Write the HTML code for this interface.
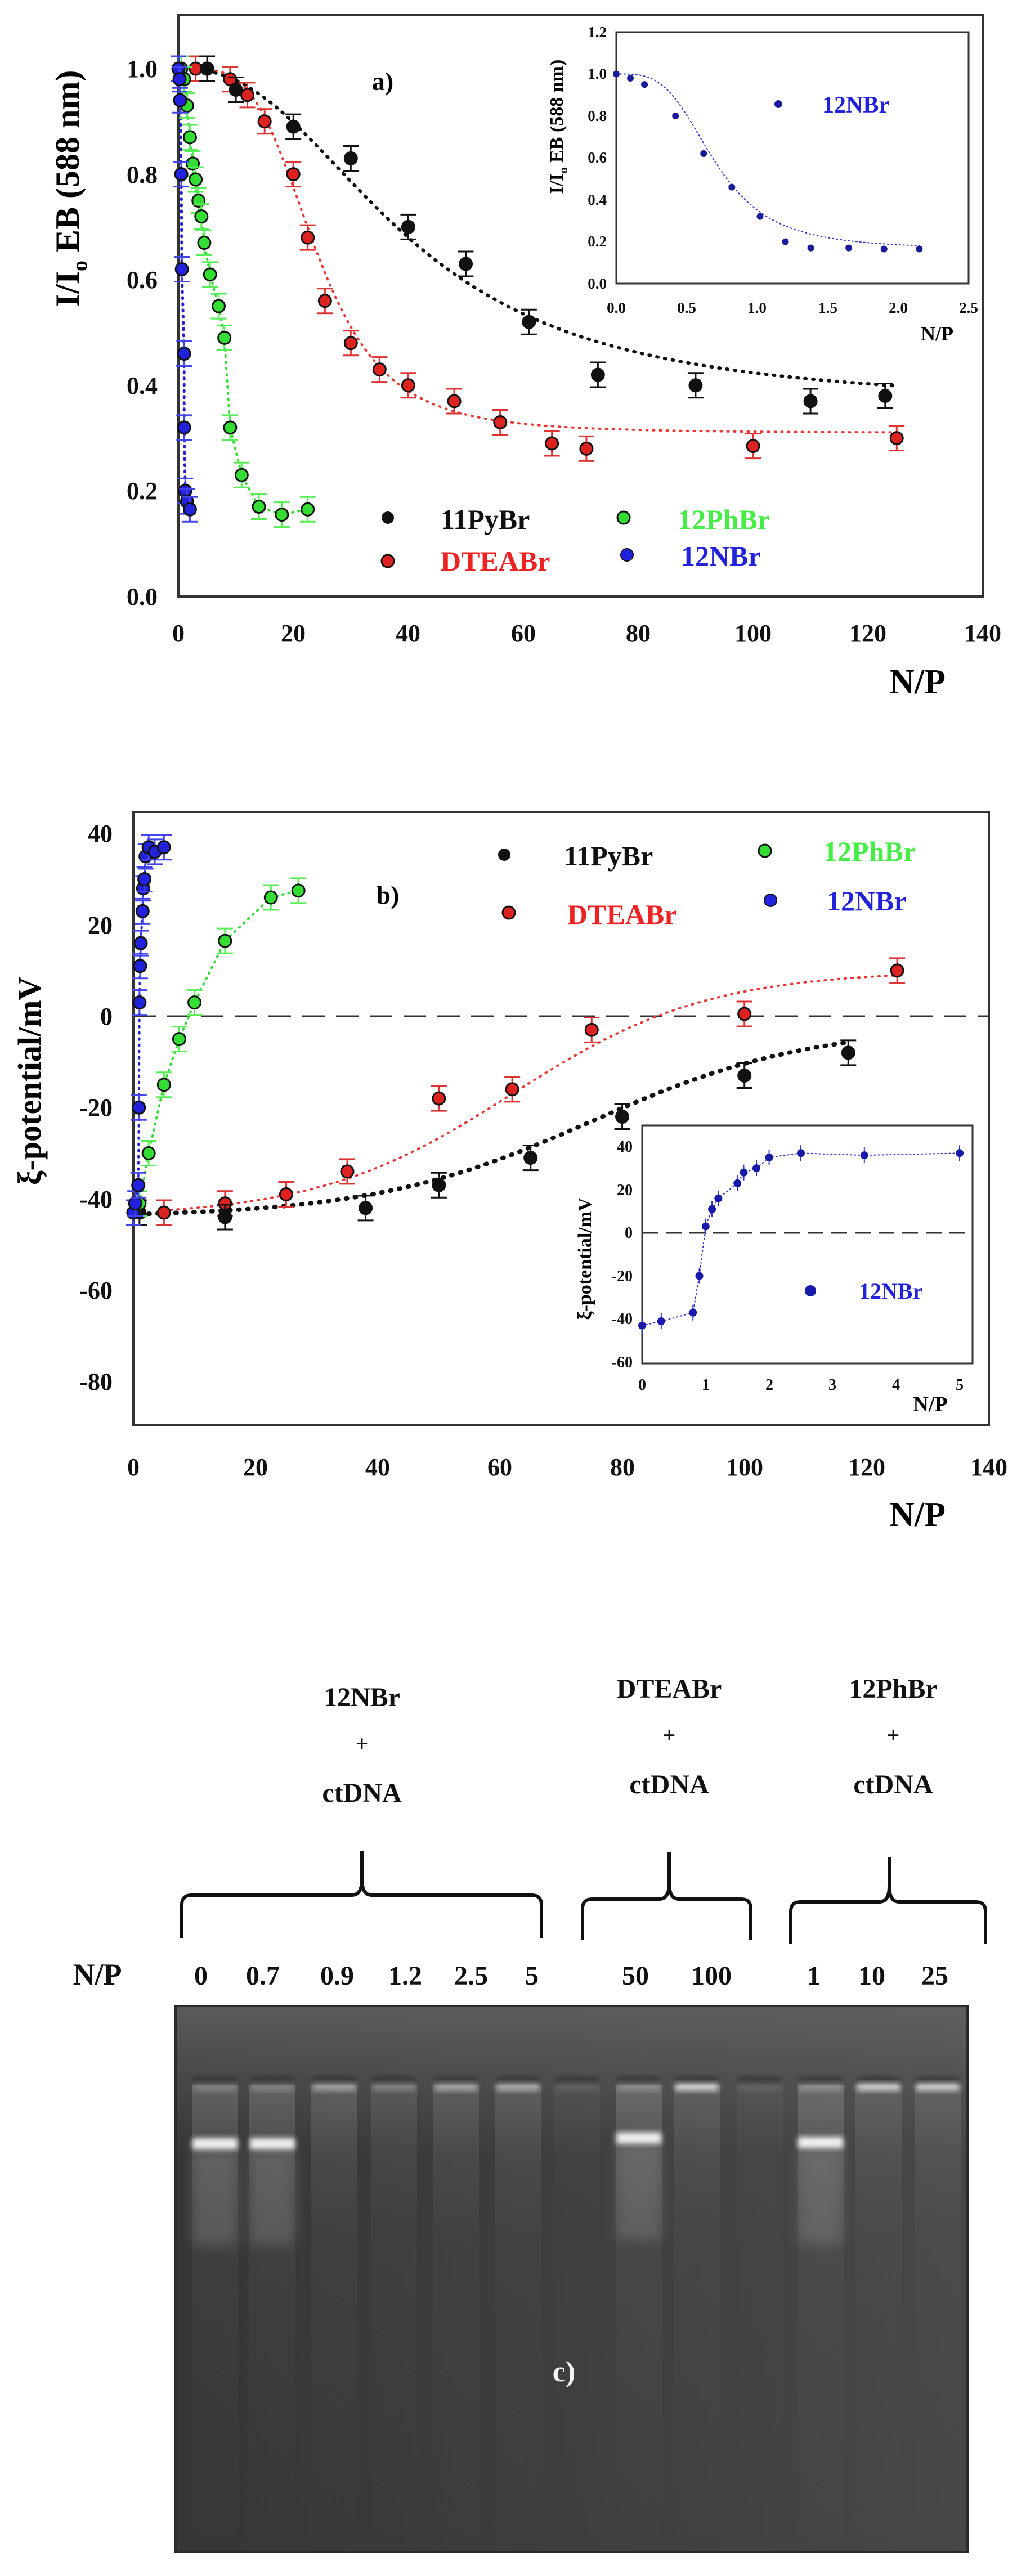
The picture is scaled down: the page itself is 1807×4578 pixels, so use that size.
<!DOCTYPE html>
<html><head><meta charset="utf-8">
<style>
html,body{margin:0;padding:0;background:#fff;}
svg{display:block;}
text{font-family:"Liberation Serif",serif;font-weight:bold;}
</style></head>
<body>
<svg id="s" xmlns="http://www.w3.org/2000/svg" width="1807" height="4578" viewBox="0 0 1807 4578">
<defs>
<filter id="bl" x="-50%" y="-50%" width="200%" height="200%"><feGaussianBlur stdDeviation="5"/></filter>
<filter id="bl2" x="-50%" y="-50%" width="200%" height="200%"><feGaussianBlur stdDeviation="12"/></filter>
<linearGradient id="gelbg" x1="0" y1="0" x2="1" y2="0">
<stop offset="0" stop-color="#363636"/><stop offset="0.5" stop-color="#3e3e3e"/><stop offset="1" stop-color="#474747"/></linearGradient>
<linearGradient id="geltop" x1="0" y1="0" x2="0" y2="1">
<stop offset="0" stop-color="#6a6a6a" stop-opacity="0.7"/><stop offset="1" stop-color="#6a6a6a" stop-opacity="0"/></linearGradient>
<linearGradient id="smear" x1="0" y1="0" x2="0" y2="1">
<stop offset="0" stop-color="#aaa" stop-opacity="0.35"/><stop offset="0.35" stop-color="#888" stop-opacity="0.12"/><stop offset="1" stop-color="#777" stop-opacity="0.02"/></linearGradient>
</defs>

<!-- ===== Panel a ===== -->
<rect x="317" y="27" width="1429" height="1033" fill="none" stroke="#333" stroke-width="4"/>
<g font-size="44" text-anchor="end" fill="#111">
<text x="280" y="1075">0.0</text><text x="280" y="887">0.2</text><text x="280" y="700">0.4</text>
<text x="280" y="512">0.6</text><text x="280" y="325">0.8</text><text x="280" y="137">1.0</text>
</g>
<g font-size="44" text-anchor="middle" fill="#111">
<text x="317" y="1140">0</text><text x="521" y="1140">20</text><text x="725" y="1140">40</text>
<text x="930" y="1140">60</text><text x="1134" y="1140">80</text><text x="1338" y="1140">100</text>
<text x="1542" y="1140">120</text><text x="1746" y="1140">140</text>
</g>
<text x="1630" y="1232" font-size="62" text-anchor="middle">N/P</text>
<text transform="translate(140,335) rotate(-90)" font-size="60" text-anchor="middle">I/I<tspan font-size="38" dy="14">o</tspan><tspan dy="-14"> EB (588 nm)</tspan></text>
<text x="680" y="160" font-size="46" text-anchor="middle">a)</text>
<!-- inset a -->
<rect x="1095" y="57" width="626" height="447" fill="#fff" stroke="#333" stroke-width="3"/>
<g font-size="27" text-anchor="end" fill="#111">
<text x="1078" y="513">0.0</text><text x="1078" y="438">0.2</text><text x="1078" y="364">0.4</text>
<text x="1078" y="289">0.6</text><text x="1078" y="215">0.8</text><text x="1078" y="140">1.0</text><text x="1078" y="66">1.2</text>
</g>
<g font-size="27" text-anchor="middle" fill="#111">
<text x="1095" y="556">0.0</text><text x="1220" y="556">0.5</text><text x="1345" y="556">1.0</text>
<text x="1471" y="556">1.5</text><text x="1596" y="556">2.0</text><text x="1721" y="556">2.5</text>
</g>
<text x="1665" y="605" font-size="36" text-anchor="middle">N/P</text>
<text transform="translate(1000,225) rotate(-90)" font-size="34" text-anchor="middle">I/I<tspan font-size="22" dy="8">o</tspan><tspan dy="-8"> EB (588 nm)</tspan></text>
<circle cx="1383" cy="185" r="7" fill="#1a1a9a"/>
<text x="1461" y="200" font-size="42" fill="#2222dd" font-family="Liberation Sans,sans-serif">12NBr</text>
<!-- legend a -->
<circle cx="689" cy="920" r="11" fill="#111"/><text x="783" y="940" font-size="50" fill="#111">11PyBr</text>
<circle cx="689" cy="997" r="11" fill="#dd2222" stroke="#111" stroke-width="3"/><text x="783" y="1014" font-size="50" fill="#ee2222">DTEABr</text>
<circle cx="1108" cy="920" r="11" fill="#33dd33" stroke="#111" stroke-width="3"/><text x="1204" y="940" font-size="50" fill="#44ee44">12PhBr</text>
<circle cx="1114" cy="986" r="11" fill="#2222dd" stroke="#111" stroke-width="2"/><text x="1210" y="1005" font-size="50" fill="#2222dd">12NBr</text>

<!-- ===== Panel b ===== -->
<rect x="237" y="1443" width="1520" height="1090" fill="none" stroke="#333" stroke-width="4"/>
<g font-size="44" text-anchor="end" fill="#111">
<text x="200" y="1496">40</text><text x="200" y="1659">20</text><text x="200" y="1821">0</text>
<text x="200" y="1983">-20</text><text x="200" y="2146">-40</text><text x="200" y="2308">-60</text><text x="200" y="2470">-80</text>
</g>
<g font-size="44" text-anchor="middle" fill="#111">
<text x="237" y="2622">0</text><text x="454" y="2622">20</text><text x="671" y="2622">40</text>
<text x="888" y="2622">60</text><text x="1106" y="2622">80</text><text x="1323" y="2622">100</text>
<text x="1540" y="2622">120</text><text x="1757" y="2622">140</text>
</g>
<text x="1630" y="2712" font-size="62" text-anchor="middle">N/P</text>
<text transform="translate(72,1921) rotate(-90)" font-size="58" text-anchor="middle">ξ-potential/mV</text>
<text x="689" y="1606" font-size="46" text-anchor="middle">b)</text>
<line x1="237" y1="1806" x2="1757" y2="1806" stroke="#333" stroke-width="3" stroke-dasharray="40,20"/>
<!-- legend b -->
<circle cx="896" cy="1519" r="11" fill="#111"/><text x="1002" y="1538" font-size="50" fill="#111">11PyBr</text>
<circle cx="904" cy="1622" r="11" fill="#dd2222" stroke="#111" stroke-width="3"/><text x="1008" y="1642" font-size="50" fill="#ee2222">DTEABr</text>
<circle cx="1359" cy="1512" r="11" fill="#33dd33" stroke="#111" stroke-width="3"/><text x="1463" y="1530" font-size="50" fill="#44ee44">12PhBr</text>
<circle cx="1369" cy="1600" r="11" fill="#2222dd" stroke="#111" stroke-width="2"/><text x="1469" y="1618" font-size="50" fill="#2222dd">12NBr</text>
<!-- inset b -->
<rect x="1141" y="2000" width="587" height="423" fill="#fff" stroke="#333" stroke-width="3"/>
<g font-size="28" text-anchor="end" fill="#111">
<text x="1124" y="2047">40</text><text x="1124" y="2124">20</text><text x="1124" y="2200">0</text>
<text x="1124" y="2277">-20</text><text x="1124" y="2353">-40</text><text x="1124" y="2430">-60</text>
</g>
<g font-size="28" text-anchor="middle" fill="#111">
<text x="1141" y="2470">0</text><text x="1254" y="2470">1</text><text x="1367" y="2470">2</text>
<text x="1479" y="2470">3</text><text x="1592" y="2470">4</text><text x="1705" y="2470">5</text>
</g>
<text x="1653" y="2508" font-size="38" text-anchor="middle">N/P</text>
<text transform="translate(1050,2237) rotate(-90)" font-size="34" text-anchor="middle">ξ-potential/mV</text>
<line x1="1141" y1="2191" x2="1728" y2="2191" stroke="#333" stroke-width="3" stroke-dasharray="28,14"/>
<circle cx="1440" cy="2294" r="10" fill="#1a1aaa"/>
<text x="1526" y="2308" font-size="40" fill="#2222dd" font-family="Liberation Sans,sans-serif">12NBr</text>

<g id="data"></g>

<!-- ===== Panel c ===== -->
<g font-size="48" text-anchor="middle" fill="#111">
<text x="643" y="3032">12NBr</text><text x="643" y="3112" font-size="40">+</text><text x="643" y="3202">ctDNA</text>
<text x="1189" y="3017">DTEABr</text><text x="1189" y="3097" font-size="40">+</text><text x="1189" y="3187">ctDNA</text>
<text x="1587" y="3017">12PhBr</text><text x="1587" y="3097" font-size="40">+</text><text x="1587" y="3187">ctDNA</text>
</g>
<g fill="none" stroke="#111" stroke-width="6" stroke-linejoin="round">
<path d="M323,3445 L323,3385 Q323,3368 340,3368 L625,3368 Q643,3368 643,3340 L643,3290 M643,3340 Q643,3368 661,3368 L945,3368 Q962,3368 962,3385 L962,3445"/>
<path d="M1035,3448 L1035,3392 Q1035,3375 1052,3375 L1171,3375 Q1189,3375 1189,3347 L1189,3292 M1189,3347 Q1189,3375 1207,3375 L1317,3375 Q1334,3375 1334,3392 L1334,3448"/>
<path d="M1405,3455 L1405,3397 Q1405,3380 1422,3380 L1562,3380 Q1580,3380 1580,3352 L1580,3300 M1580,3352 Q1580,3380 1598,3380 L1734,3380 Q1751,3380 1751,3397 L1751,3455"/>
</g>
<g font-size="48" text-anchor="middle" fill="#111">
<text x="173" y="3527" font-size="54">N/P</text>
<text x="357" y="3527">0</text><text x="467" y="3527">0.7</text><text x="599" y="3527">0.9</text>
<text x="720" y="3527">1.2</text><text x="837" y="3527">2.5</text><text x="945" y="3527">5</text>
<text x="1129" y="3527">50</text><text x="1264" y="3527">100</text>
<text x="1446" y="3527">1</text><text x="1549" y="3527">10</text><text x="1661" y="3527">25</text>
</g>
<rect x="312" y="3565" width="1407" height="970" fill="url(#gelbg)"/>
<rect x="312" y="3565" width="1407" height="260" fill="url(#geltop)"/>
<g id="gel"></g>
<rect x="312" y="3565" width="1407" height="970" fill="none" stroke="#2a2a2a" stroke-width="4"/>
<text x="1002" y="4232" font-size="52" fill="#f4f4f4" text-anchor="middle">c)</text>
</svg>
<script>
(function(){
var NS="http://www.w3.org/2000/svg";
var g=document.getElementById('data');
function el(t,a,p){var e=document.createElementNS(NS,t);for(var k in a)e.setAttribute(k,a[k]);(p||g).appendChild(e);return e;}
function line(pts,col,w,dash){el('polyline',{points:pts.map(function(p){return p[0].toFixed(1)+','+p[1].toFixed(1)}).join(' '),fill:'none',stroke:col,'stroke-width':w,'stroke-dasharray':dash,'stroke-linecap':'round'});}
function curve(f,x0,x1,X,Y,col,w,dash){var p=[];for(var i=0;i<=120;i++){var x=x0+(x1-x0)*i/120;p.push([X(x),Y(f(x))]);}line(p,col,w,dash);}
function pts(d,X,Y,fill,ecol,r,err,cap){d.forEach(function(q){var cx=X(q[0]),cy=Y(q[1]);
 el('line',{x1:cx,y1:cy-err,x2:cx,y2:cy+err,stroke:ecol,'stroke-width':3});
 el('line',{x1:cx-cap,y1:cy-err,x2:cx+cap,y2:cy-err,stroke:ecol,'stroke-width':3});
 el('line',{x1:cx-cap,y1:cy+err,x2:cx+cap,y2:cy+err,stroke:ecol,'stroke-width':3});
 el('circle',{cx:cx,cy:cy,r:r,fill:fill,stroke:'#111','stroke-width':3});});}
var XA=function(v){return 317+v*10.21},YA=function(v){return 1060-v*938};
var blk=[[5,1.0],[10,0.96],[20,0.89],[30,0.83],[40,0.70],[50,0.63],[61,0.52],[73,0.42],[90,0.40],[110,0.37],[123,0.38]];
var red=[[3,1.0],[5,1.0],[9,0.98],[12,0.95],[15,0.90],[20,0.80],[22.5,0.68],[25.5,0.56],[30,0.48],[35,0.43],[40,0.40],[48,0.37],[56,0.33],[65,0.29],[71,0.28],[100,0.285],[125,0.30]];
var grn=[[0.5,1.0],[1,0.98],[1.5,0.93],[2,0.87],[2.5,0.82],[3,0.79],[3.5,0.75],[4,0.72],[4.5,0.67],[5.5,0.61],[7,0.55],[8,0.49],[9,0.32],[11,0.23],[14,0.17],[18,0.155],[22.5,0.165]];
var blu=[[0,1.0],[0.2,0.98],[0.3,0.94],[0.5,0.8],[0.6,0.62],[1,0.46],[1,0.32],[1.2,0.2],[1.5,0.18],[2,0.165]];
curve(function(x){return 0.36+0.64/(1+Math.pow(x/40,2.4))},5,125,XA,YA,'#111',6,'2,12');
curve(function(x){return 0.31+0.69/(1+Math.pow(x/24,4))},3,125,XA,YA,'#ee3333',4,'2,10');
line(grn.map(function(q){return[XA(q[0]),YA(q[1])]}),'#33dd33',4,'2,9');
line(blu.map(function(q){return[XA(q[0]),YA(q[1])]}),'#2222cc',5,'2,9');
pts(red,XA,YA,'#dd2222','#dd3333',11,22,14);
pts(blk,XA,YA,'#111','#111',11,22,14);
pts(grn,XA,YA,'#33dd33','#55ee55',11,22,14);
pts(blu,XA,YA,'#2222dd','#4444ee',11,22,14);
var XI=function(v){return 1095+v*250.4},YI=function(v){return 504-v*372.5};
curve(function(x){return 0.165+0.835/(1+Math.pow(x/0.7,3.5))},0,2.15,XI,YI,'#3333cc',2,'2,5');
[[0,1.0],[0.1,0.98],[0.2,0.95],[0.42,0.8],[0.62,0.62],[0.82,0.46],[1.02,0.32],[1.2,0.2],[1.38,0.17],[1.65,0.17],[1.9,0.165],[2.15,0.165]].forEach(function(q){
 el('circle',{cx:XI(q[0]),cy:YI(q[1]),r:6,fill:'#1a1a9a'});});
var XB=function(v){return 237+v*10.857},YB=function(v){return 1806-v*8.115};
var bb=[[1,-43],[15,-44],[38,-42],[50,-37],[65,-31],[80,-22],[100,-13],[117,-8]];
var rb=[[5,-43],[15,-41],[25,-39],[35,-34],[50,-18],[62,-16],[75,-3],[100,0.5],[125,10]];
var gb=[[1,-41],[2.5,-30],[5,-15],[7.5,-5],[10,3],[15,16.5],[22.5,26],[27,27.5]];
var ub=[[0,-43],[0.3,-41],[0.8,-37],[0.9,-20],[1,3],[1.1,11],[1.2,16],[1.5,23],[1.6,28],[1.8,30],[2,35],[2.5,37],[3.5,36],[5,37]];
curve(function(x){return -44+42/(1+Math.exp(-(x-75)/18))},1,117,XB,YB,'#111',8,'2,14');
curve(function(x){return -44+54/(1+Math.exp(-(x-62)/16))},5,125,XB,YB,'#ee3333',4,'2,10');
line(gb.map(function(q){return[XB(q[0]),YB(q[1])]}),'#33dd33',4,'2,9');
line(ub.map(function(q){return[XB(q[0]),YB(q[1])]}),'#2222cc',4,'2,9');
pts(rb,XB,YB,'#dd2222','#dd3333',11,22,14);
pts(bb,XB,YB,'#111','#111',11,22,14);
pts(gb,XB,YB,'#33dd33','#55ee55',11,22,14);
pts(ub,XB,YB,'#2222dd','#4444ee',11,22,14);
var XJ=function(v){return 1141+v*112.8},YJ=function(v){return 2191-v*3.83};
line(ub.map(function(q){return[XJ(q[0]),YJ(q[1])]}),'#3333cc',2,'2,5');
ub.forEach(function(q){var cx=XJ(q[0]),cy=YJ(q[1]);
 el('line',{x1:cx,y1:cy-14,x2:cx,y2:cy+14,stroke:'#3333cc','stroke-width':2});
 el('circle',{cx:cx,cy:cy,r:7,fill:'#1a1aaa'});});
var gg=document.getElementById('gel');
var lanes=[382,484,594,700,810,920,1025,1135,1238,1350,1458,1561,1666];
var smear=[0.8,0.8,0.7,0.5,0.6,0.6,0.2,0.9,0.6,0.2,0.9,0.6,0.6];
var topb=[0.25,0.25,0.5,0.3,0.55,0.6,0.1,0.3,0.9,0.1,0.3,0.85,0.85];
lanes.forEach(function(x,i){
 el('rect',{x:x-41,y:3705,width:82,height:800,fill:'url(#smear)',opacity:smear[i]},gg);
 el('rect',{x:x-38,y:3690,width:76,height:10,fill:'#2a2a2a',filter:'url(#bl)',opacity:0.6},gg);
 el('rect',{x:x-38,y:3703,width:76,height:12,fill:'#eee',filter:'url(#bl)',opacity:topb[i]},gg);
});
[[382,3810],[484,3810],[1135,3800],[1458,3808]].forEach(function(b){
 el('rect',{x:b[0]-40,y:b[1]-10,width:80,height:20,fill:'#fff',filter:'url(#bl)',opacity:0.95},gg);
 el('rect',{x:b[0]-40,y:b[1]+10,width:80,height:170,fill:'#999',filter:'url(#bl2)',opacity:0.3},gg);});
})();
</script>
</body></html>
